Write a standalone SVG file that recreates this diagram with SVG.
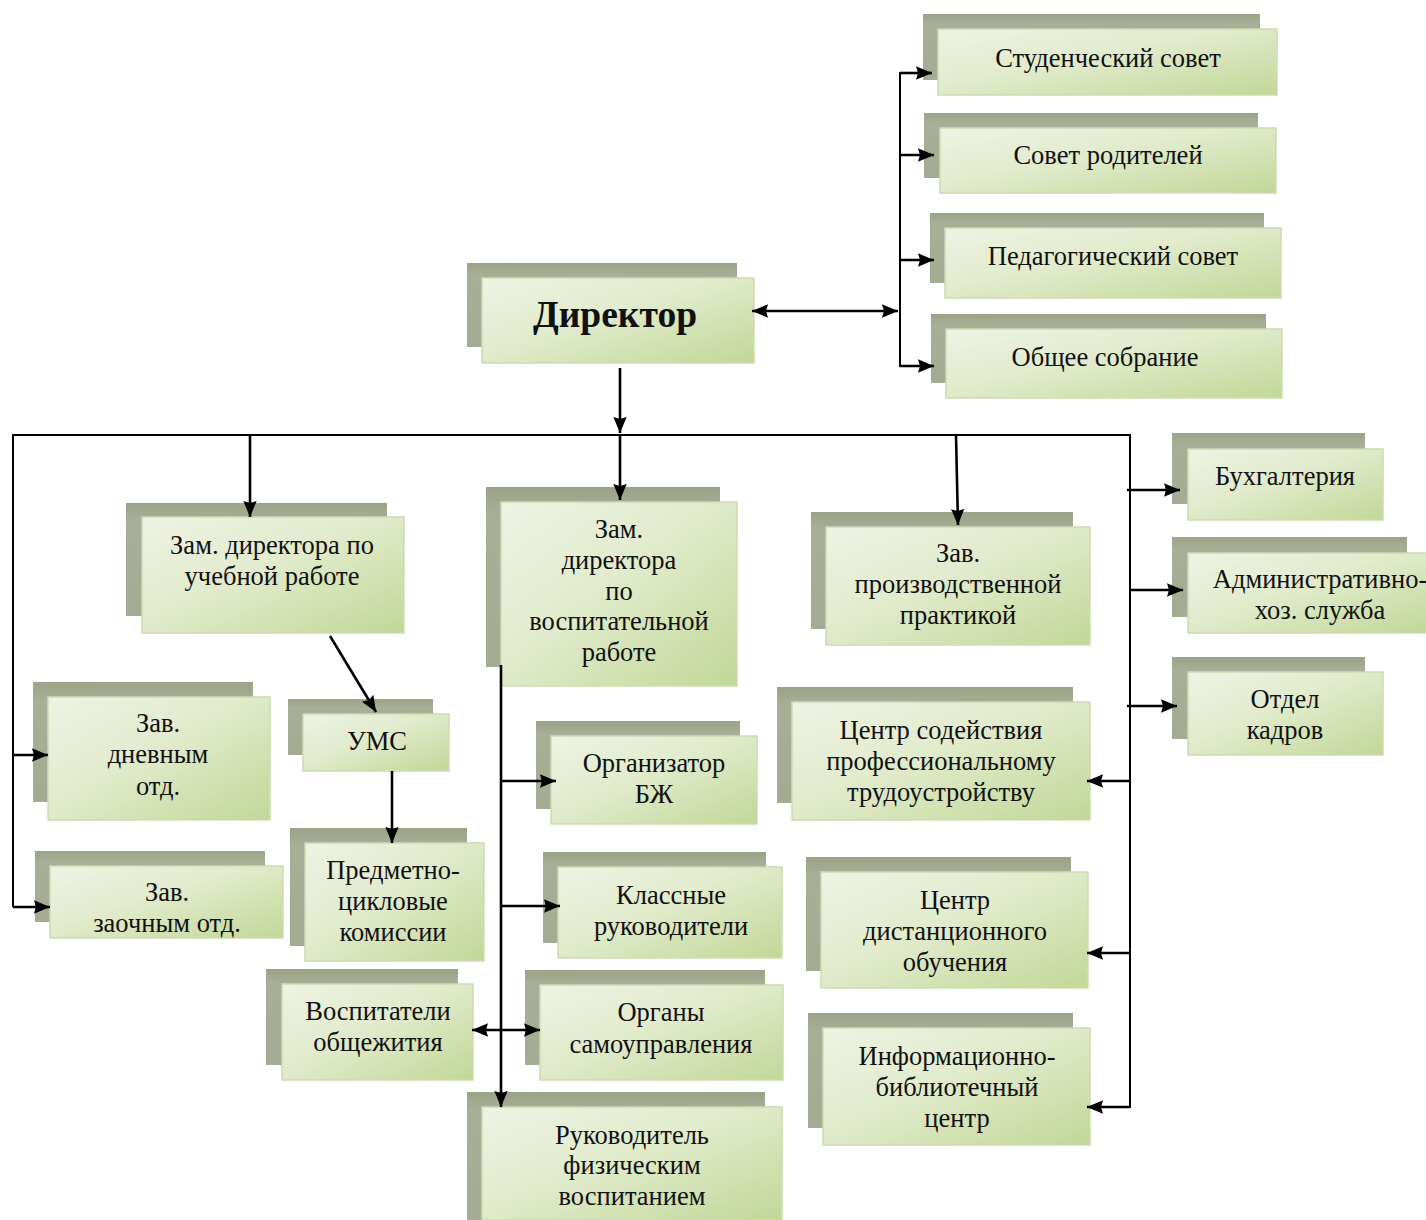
<svg xmlns="http://www.w3.org/2000/svg" width="1426" height="1220" viewBox="0 0 1426 1220">
<defs>
<linearGradient id="g" x1="0" y1="0" x2="1" y2="1">
<stop offset="0" stop-color="#eef3e3"/>
<stop offset="0.45" stop-color="#e1ebcc"/>
<stop offset="1" stop-color="#c2d797"/>
</linearGradient>
<linearGradient id="s" x1="0" y1="0" x2="0" y2="1">
<stop offset="0" stop-color="#9aa287"/>
<stop offset="0.15" stop-color="#a7af97"/>
<stop offset="1" stop-color="#a3ac92"/>
</linearGradient>
<marker id="a" viewBox="0 0 12 10" refX="12" refY="5" markerWidth="16" markerHeight="14" markerUnits="userSpaceOnUse" orient="auto-start-reverse">
<path d="M0,0 L12,5 L0,10 L1.5,5 z" fill="#000"/>
</marker>
</defs>
<style>
.sh{fill:url(#s)}
.fr{fill:url(#g);stroke:#cddcb2;stroke-width:1.5}
text{font-family:"Liberation Serif","Times New Roman",serif;font-size:26.5px;fill:#111;text-anchor:middle}
.big{font-size:37.5px;font-weight:bold}
.c line,.c polyline{stroke:#000;stroke-width:2.6;fill:none}
.c .th{stroke-width:2}
</style>
<rect width="1426" height="1220" fill="#fff"/>

<g id="n-student">
<rect class="sh" x="923" y="14" width="337" height="66"/>
<rect class="fr" x="938" y="29" width="339" height="66"/>
<text x="1108" y="67">Студенческий совет</text>
</g>
<g id="n-parents">
<rect class="sh" x="924" y="113" width="334" height="65"/>
<rect class="fr" x="940" y="128" width="336" height="65"/>
<text x="1108" y="164">Совет родителей</text>
</g>
<g id="n-ped">
<rect class="sh" x="930" y="213" width="334" height="70"/>
<rect class="fr" x="945" y="228" width="336" height="70"/>
<text x="1113" y="265">Педагогический совет</text>
</g>
<g id="n-obsh">
<rect class="sh" x="931" y="314" width="335" height="69"/>
<rect class="fr" x="946" y="329" width="336" height="69"/>
<text x="1105" y="366">Общее собрание</text>
</g>
<g id="n-dir">
<rect class="sh" x="467" y="263" width="270" height="84"/>
<rect class="fr" x="482" y="278" width="272" height="85"/>
<text class="big" x="615" y="327">Директор</text>
</g>
<g id="n-zam-ucheb">
<rect class="sh" x="126" y="503" width="261" height="113"/>
<rect class="fr" x="142" y="517" width="262" height="116"/>
<text x="272" y="554">Зам. директора по</text>
<text x="272" y="585">учебной работе</text>
</g>
<g id="n-zam-vosp">
<rect class="sh" x="486" y="487" width="234" height="180"/>
<rect class="fr" x="501" y="502" width="236" height="184"/>
<text x="619" y="538">Зам.</text>
<text x="619" y="569">директора</text>
<text x="619" y="600">по</text>
<text x="619" y="630">воспитательной</text>
<text x="619" y="661">работе</text>
</g>
<g id="n-zav-proizv">
<rect class="sh" x="811" y="512" width="262" height="117"/>
<rect class="fr" x="826" y="527" width="264" height="118"/>
<text x="958" y="562">Зав.</text>
<text x="958" y="593">производственной</text>
<text x="958" y="624">практикой</text>
</g>
<g id="n-buh">
<rect class="sh" x="1172" y="433" width="193" height="71"/>
<rect class="fr" x="1188" y="449" width="195" height="71"/>
<text x="1285" y="485">Бухгалтерия</text>
</g>
<g id="n-adm">
<rect class="sh" x="1172" y="537" width="235" height="80"/>
<rect class="fr" x="1188" y="553" width="240" height="80"/>
<text x="1320" y="588">Административно-</text>
<text x="1320" y="619">хоз. служба</text>
</g>
<g id="n-kadry">
<rect class="sh" x="1172" y="657" width="193" height="82"/>
<rect class="fr" x="1188" y="672" width="195" height="83"/>
<text x="1285" y="708">Отдел</text>
<text x="1285" y="739">кадров</text>
</g>
<g id="n-dnev">
<rect class="sh" x="33" y="682" width="220" height="120"/>
<rect class="fr" x="48" y="697" width="222" height="123"/>
<text x="158" y="732">Зав.</text>
<text x="158" y="763">дневным</text>
<text x="158" y="795">отд.</text>
</g>
<g id="n-zaoch">
<rect class="sh" x="35" y="851" width="230" height="71"/>
<rect class="fr" x="50" y="866" width="233" height="72"/>
<text x="167" y="901">Зав.</text>
<text x="167" y="932">заочным отд.</text>
</g>
<g id="n-ums">
<rect class="sh" x="288" y="699" width="145" height="56"/>
<rect class="fr" x="303" y="714" width="146" height="57"/>
<text x="377" y="750">УМС</text>
</g>
<g id="n-pck">
<rect class="sh" x="290" y="828" width="177" height="118"/>
<rect class="fr" x="305" y="843" width="179" height="118"/>
<text x="393" y="879">Предметно-</text>
<text x="393" y="910">цикловые</text>
<text x="393" y="941">комиссии</text>
</g>
<g id="n-vosp-obsh">
<rect class="sh" x="266" y="969" width="192" height="96"/>
<rect class="fr" x="282" y="984" width="191" height="96"/>
<text x="378" y="1020">Воспитатели</text>
<text x="378" y="1051">общежития</text>
</g>
<g id="n-bzh">
<rect class="sh" x="536" y="721" width="204" height="88"/>
<rect class="fr" x="551" y="736" width="206" height="88"/>
<text x="654" y="772">Организатор</text>
<text x="654" y="803">БЖ</text>
</g>
<g id="n-klass">
<rect class="sh" x="543" y="852" width="223" height="91"/>
<rect class="fr" x="558" y="867" width="224" height="91"/>
<text x="671" y="904">Классные</text>
<text x="671" y="935">руководители</text>
</g>
<g id="n-organy">
<rect class="sh" x="525" y="970" width="240" height="95"/>
<rect class="fr" x="540" y="985" width="243" height="95"/>
<text x="661" y="1021">Органы</text>
<text x="661" y="1053">самоуправления</text>
</g>
<g id="n-fiz">
<rect class="sh" x="467" y="1092" width="298" height="128"/>
<rect class="fr" x="482" y="1107" width="300" height="113"/>
<text x="632" y="1144">Руководитель</text>
<text x="632" y="1174">физическим</text>
<text x="632" y="1205">воспитанием</text>
</g>
<g id="n-csp">
<rect class="sh" x="777" y="687" width="296" height="116"/>
<rect class="fr" x="792" y="702" width="298" height="118"/>
<text x="941" y="739">Центр содействия</text>
<text x="941" y="770">профессиональному</text>
<text x="941" y="801">трудоустройству</text>
</g>
<g id="n-cdo">
<rect class="sh" x="806" y="857" width="265" height="114"/>
<rect class="fr" x="821" y="872" width="267" height="116"/>
<text x="955" y="909">Центр</text>
<text x="955" y="940">дистанционного</text>
<text x="955" y="971">обучения</text>
</g>
<g id="n-ibc">
<rect class="sh" x="808" y="1013" width="265" height="115"/>
<rect class="fr" x="823" y="1028" width="267" height="117"/>
<text x="957" y="1065">Информационно-</text>
<text x="957" y="1096">библиотечный</text>
<text x="957" y="1127">центр</text>
</g>

<g id="connectors" class="c">
<line x1="752" y1="311" x2="898" y2="311" marker-start="url(#a)" marker-end="url(#a)"/>
<line class="th" x1="900" y1="72" x2="900" y2="367"/>
<line x1="900" y1="73" x2="932" y2="73" marker-end="url(#a)"/>
<line x1="900" y1="155" x2="934" y2="155" marker-end="url(#a)"/>
<line x1="900" y1="260" x2="934" y2="260" marker-end="url(#a)"/>
<line x1="900" y1="366" x2="934" y2="366" marker-end="url(#a)"/>
<line x1="620" y1="368" x2="620" y2="433" marker-end="url(#a)"/>
<polyline class="th" points="13,907 13,435 1130,435 1130,1108"/>
<line x1="13" y1="755" x2="48" y2="755" marker-end="url(#a)"/>
<line x1="13" y1="907" x2="50" y2="907" marker-end="url(#a)"/>
<line x1="250" y1="435" x2="250" y2="517" marker-end="url(#a)"/>
<line x1="620" y1="435" x2="620" y2="500" marker-end="url(#a)"/>
<line x1="956" y1="435" x2="958" y2="525" marker-end="url(#a)"/>
<line x1="1127" y1="490" x2="1180" y2="490" marker-end="url(#a)"/>
<line x1="1130" y1="590" x2="1183" y2="590" marker-end="url(#a)"/>
<line x1="1127" y1="706" x2="1177" y2="706" marker-end="url(#a)"/>
<line x1="1130" y1="781" x2="1087" y2="781" marker-end="url(#a)"/>
<line x1="1130" y1="953" x2="1087" y2="953" marker-end="url(#a)"/>
<line x1="1130" y1="1107" x2="1087" y2="1107" marker-end="url(#a)"/>
<line x1="330" y1="636" x2="376" y2="712" marker-end="url(#a)"/>
<line x1="392" y1="771" x2="392" y2="843" marker-end="url(#a)"/>
<line x1="501" y1="665" x2="501" y2="1107" marker-end="url(#a)"/>
<line x1="501" y1="781" x2="556" y2="781" marker-end="url(#a)"/>
<line x1="501" y1="906" x2="560" y2="906" marker-end="url(#a)"/>
<line x1="472" y1="1030" x2="540" y2="1030" marker-start="url(#a)" marker-end="url(#a)"/>
</g>
</svg>
